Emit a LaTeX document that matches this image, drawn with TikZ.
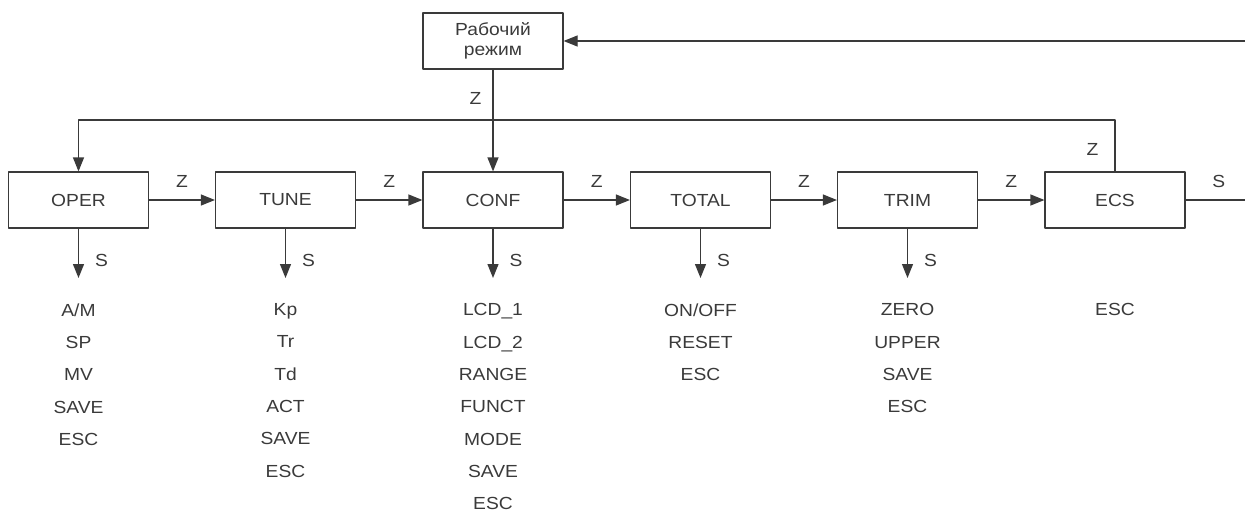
\documentclass[tikz,border=0pt]{standalone}
\usepackage{fontspec}
\setmainfont[FakeStretch=1.1]{Liberation Sans}
\usetikzlibrary{arrows.meta}
\definecolor{ink}{HTML}{3A3A3A}

\begin{document}
\begin{tikzpicture}[line cap=round,line join=round,>={Triangle[length=14pt,width=11pt]},x=1pt,y=-1pt, line width=1.2pt, color=ink,
    font=\fontsize{17.5}{20}\selectfont,
    box/.style={draw, rectangle, minimum width=140pt, minimum height=56pt, align=center, inner sep=0pt},
    lbl/.style={inner sep=3pt},
    menu/.style={anchor=north, inner sep=0pt, align=center, font=\fontsize{17.5}{32.3}\selectfont}]
    \useasboundingbox (0,0) rectangle (1245,511);

    \node[box] (work) at (493,41) {Рабочий\\режим};

    \node[box] (oper) at (78.5,200) {OPER};
    \node[box] (tune) at (285.5,200) {TUNE};
    \node[box] (conf) at (493,200) {CONF};
    \node[box] (total) at (700.5,200) {TOTAL};
    \node[box] (trim) at (907.5,200) {TRIM};
    \node[box] (ecs) at (1115,200) {ECS};

    \node[menu] (operm) at (78.5,303) {A/M\\SP\\MV\\SAVE\\ESC};
    \node[menu] (tunem) at (285.5,303) {Kp\\Tr\\Td\\ACT\\SAVE\\ESC};
    \node[menu] (confm) at (493,303) {LCD\_1\\LCD\_2\\RANGE\\FUNCT\\MODE\\SAVE\\ESC};
    \node[menu] (totalm) at (700.5,303) {ON/OFF\\RESET\\ESC};
    \node[menu] (trimm) at (907.5,303) {ZERO\\UPPER\\SAVE\\ESC};
    \node[menu] (ecsm) at (1115,303) {ESC};

    \coordinate (bus) at (78.5,120);
    \coordinate (turn) at (1250,200);

    % Z: next menu
    \draw[->] (work) -- node[lbl, left=8pt, pos=0.28] {Z} (conf);
    \draw[->] (oper) -- node[lbl, above=9pt] {Z} (tune);
    \draw[->] (tune) -- node[lbl, above=9pt] {Z} (conf);
    \draw[->] (conf) -- node[lbl, above=9pt] {Z} (total);
    \draw[->] (total) -- node[lbl, above=9pt] {Z} (trim);
    \draw[->] (trim) -- node[lbl, above=9pt] {Z} (ecs);
    \draw[->] (ecs) |- node[lbl, left=13pt, pos=0.215] {Z} (bus) -- (oper);
    \draw[->] (ecs) -- node[lbl, above=9pt, pos=0.515] {S} (turn) |- (work);

    % S: open submenu
    \draw[->, shorten >=25pt] (oper) -- node[lbl, right=13pt, pos=0.43] {S} (operm);
    \draw[->, shorten >=25pt] (tune) -- node[lbl, right=13pt, pos=0.43] {S} (tunem);
    \draw[->, shorten >=25pt] (conf) -- node[lbl, right=13pt, pos=0.43] {S} (confm);
    \draw[->, shorten >=25pt] (total) -- node[lbl, right=13pt, pos=0.43] {S} (totalm);
    \draw[->, shorten >=25pt] (trim) -- node[lbl, right=13pt, pos=0.43] {S} (trimm);
\end{tikzpicture}
\end{document}
